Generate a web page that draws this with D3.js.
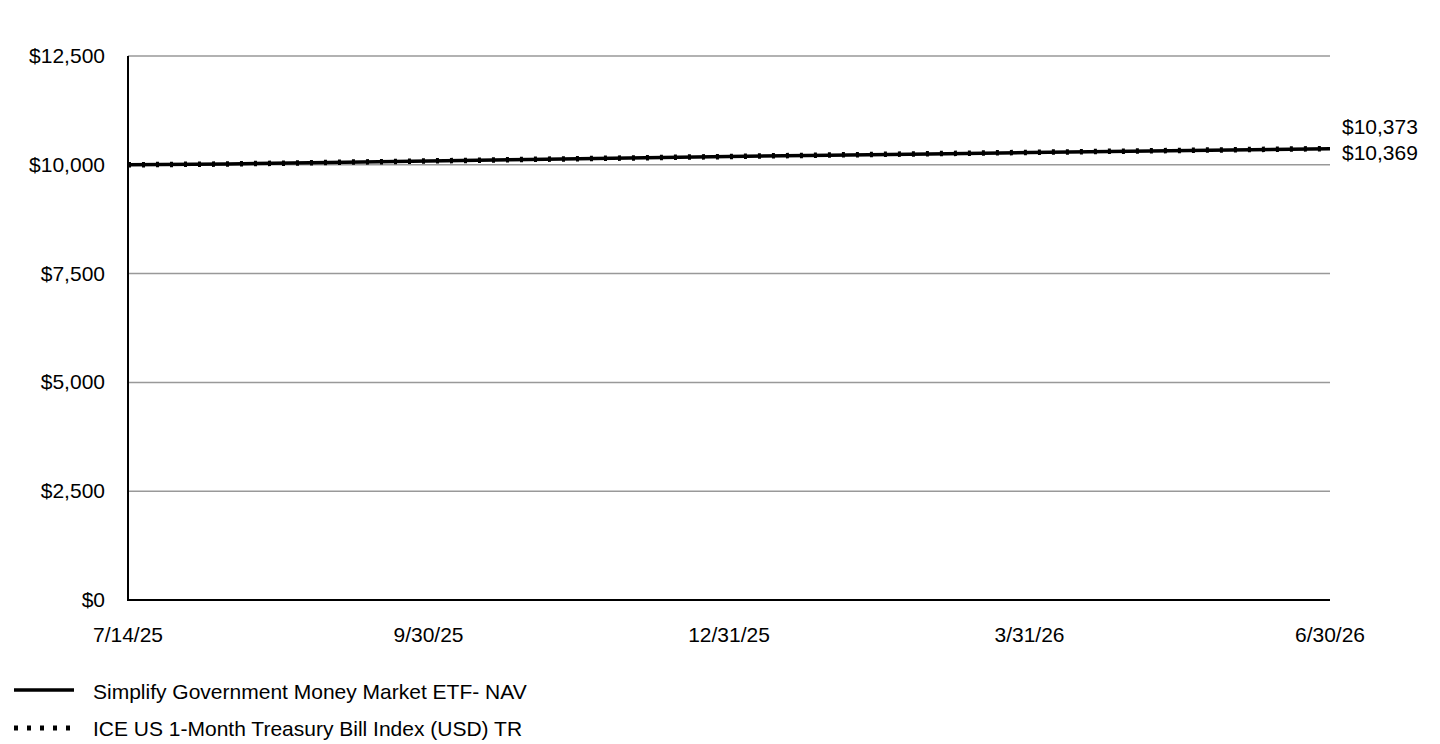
<!DOCTYPE html>
<html><head><meta charset="utf-8">
<script src="https://cdn.jsdelivr.net/npm/d3@7"></script>
<style>body{margin:0;background:#fff}svg{display:block}text{font-family:"Liberation Sans",Arial,sans-serif;fill:#000}</style>
</head><body><svg id="c" width="1440" height="744"></svg>
<script>
const dates = ["7/14/25","7/31/25","8/31/25","9/30/25","10/31/25","11/30/25","12/31/25","1/31/26","2/28/26","3/31/26","4/30/26","5/31/26","6/30/26"];
const tickLabels = ["7/14/25","9/30/25","12/31/25","3/31/26","6/30/26"];
const fundValues = [10000,10018,10053,10087,10122,10155,10189,10222,10251,10282,10312,10341,10369];
const indexValues = [10000,10018,10054,10088,10123,10157,10191,10225,10254,10285,10315,10345,10373];
const yTicks = [0,2500,5000,7500,10000,12500];
const seriesNames = ["Simplify Government Money Market ETF- NAV","ICE US 1-Month Treasury Bill Index (USD) TR"];

const svg = d3.select("#c");
const L=128,R=1330,T=56,B=600;
const FS=21;
const x = d3.scalePoint().domain(dates).range([L,R]);
const y = d3.scaleLinear().domain([0,12500]).range([B,T]);
const fmt = v => "$" + d3.format(",")(v);

// gridlines
svg.append("g").selectAll("line").data(yTicks.filter(d=>d>0)).join("line")
  .attr("x1",L).attr("x2",R).attr("y1",d=>y(d)).attr("y2",d=>y(d))
  .attr("stroke","#999").attr("stroke-width",1.5);

// y axis labels
svg.append("g").selectAll("text").data(yTicks).join("text")
  .attr("x",105).attr("y",d=>y(d)+7).attr("text-anchor","end")
  .attr("font-size",FS).text(fmt);

// x labels
svg.append("g").selectAll("text").data(tickLabels).join("text")
  .attr("x",d=>x(d)).attr("y",642).attr("text-anchor","middle")
  .attr("font-size",FS).text(d=>d);

// axes
svg.append("line").attr("x1",L).attr("x2",L).attr("y1",T).attr("y2",B+1).attr("stroke","#000").attr("stroke-width",2);
svg.append("line").attr("x1",L-1).attr("x2",R).attr("y1",B).attr("y2",B).attr("stroke","#000").attr("stroke-width",2);

const line = d3.line().x((d,i)=>x(dates[i])).y(d=>y(d));
svg.append("path").attr("d",line(fundValues)).attr("fill","none").attr("stroke","#000").attr("stroke-width",3.5);
svg.append("path").attr("d",line(indexValues)).attr("fill","none").attr("stroke","#000").attr("stroke-width",5.5).attr("stroke-dasharray","3,11");

// end labels
svg.append("text").attr("x",1342).attr("y",y(indexValues[12])-15).attr("font-size",FS).text(fmt(indexValues[12]));
svg.append("text").attr("x",1342).attr("y",y(fundValues[12])+11).attr("font-size",FS).text(fmt(fundValues[12]));

// legend
const lg = svg.append("g");
lg.append("line").attr("x1",14).attr("x2",74).attr("y1",690).attr("y2",690).attr("stroke","#000").attr("stroke-width",3.5);
lg.append("line").attr("x1",14).attr("x2",74).attr("y1",728).attr("y2",728).attr("stroke","#000").attr("stroke-width",5).attr("stroke-dasharray","4,9");
lg.append("text").attr("x",93).attr("y",699).attr("font-size",FS).text(seriesNames[0]);
lg.append("text").attr("x",93).attr("y",736).attr("font-size",FS).text(seriesNames[1]);
</script></body></html>
